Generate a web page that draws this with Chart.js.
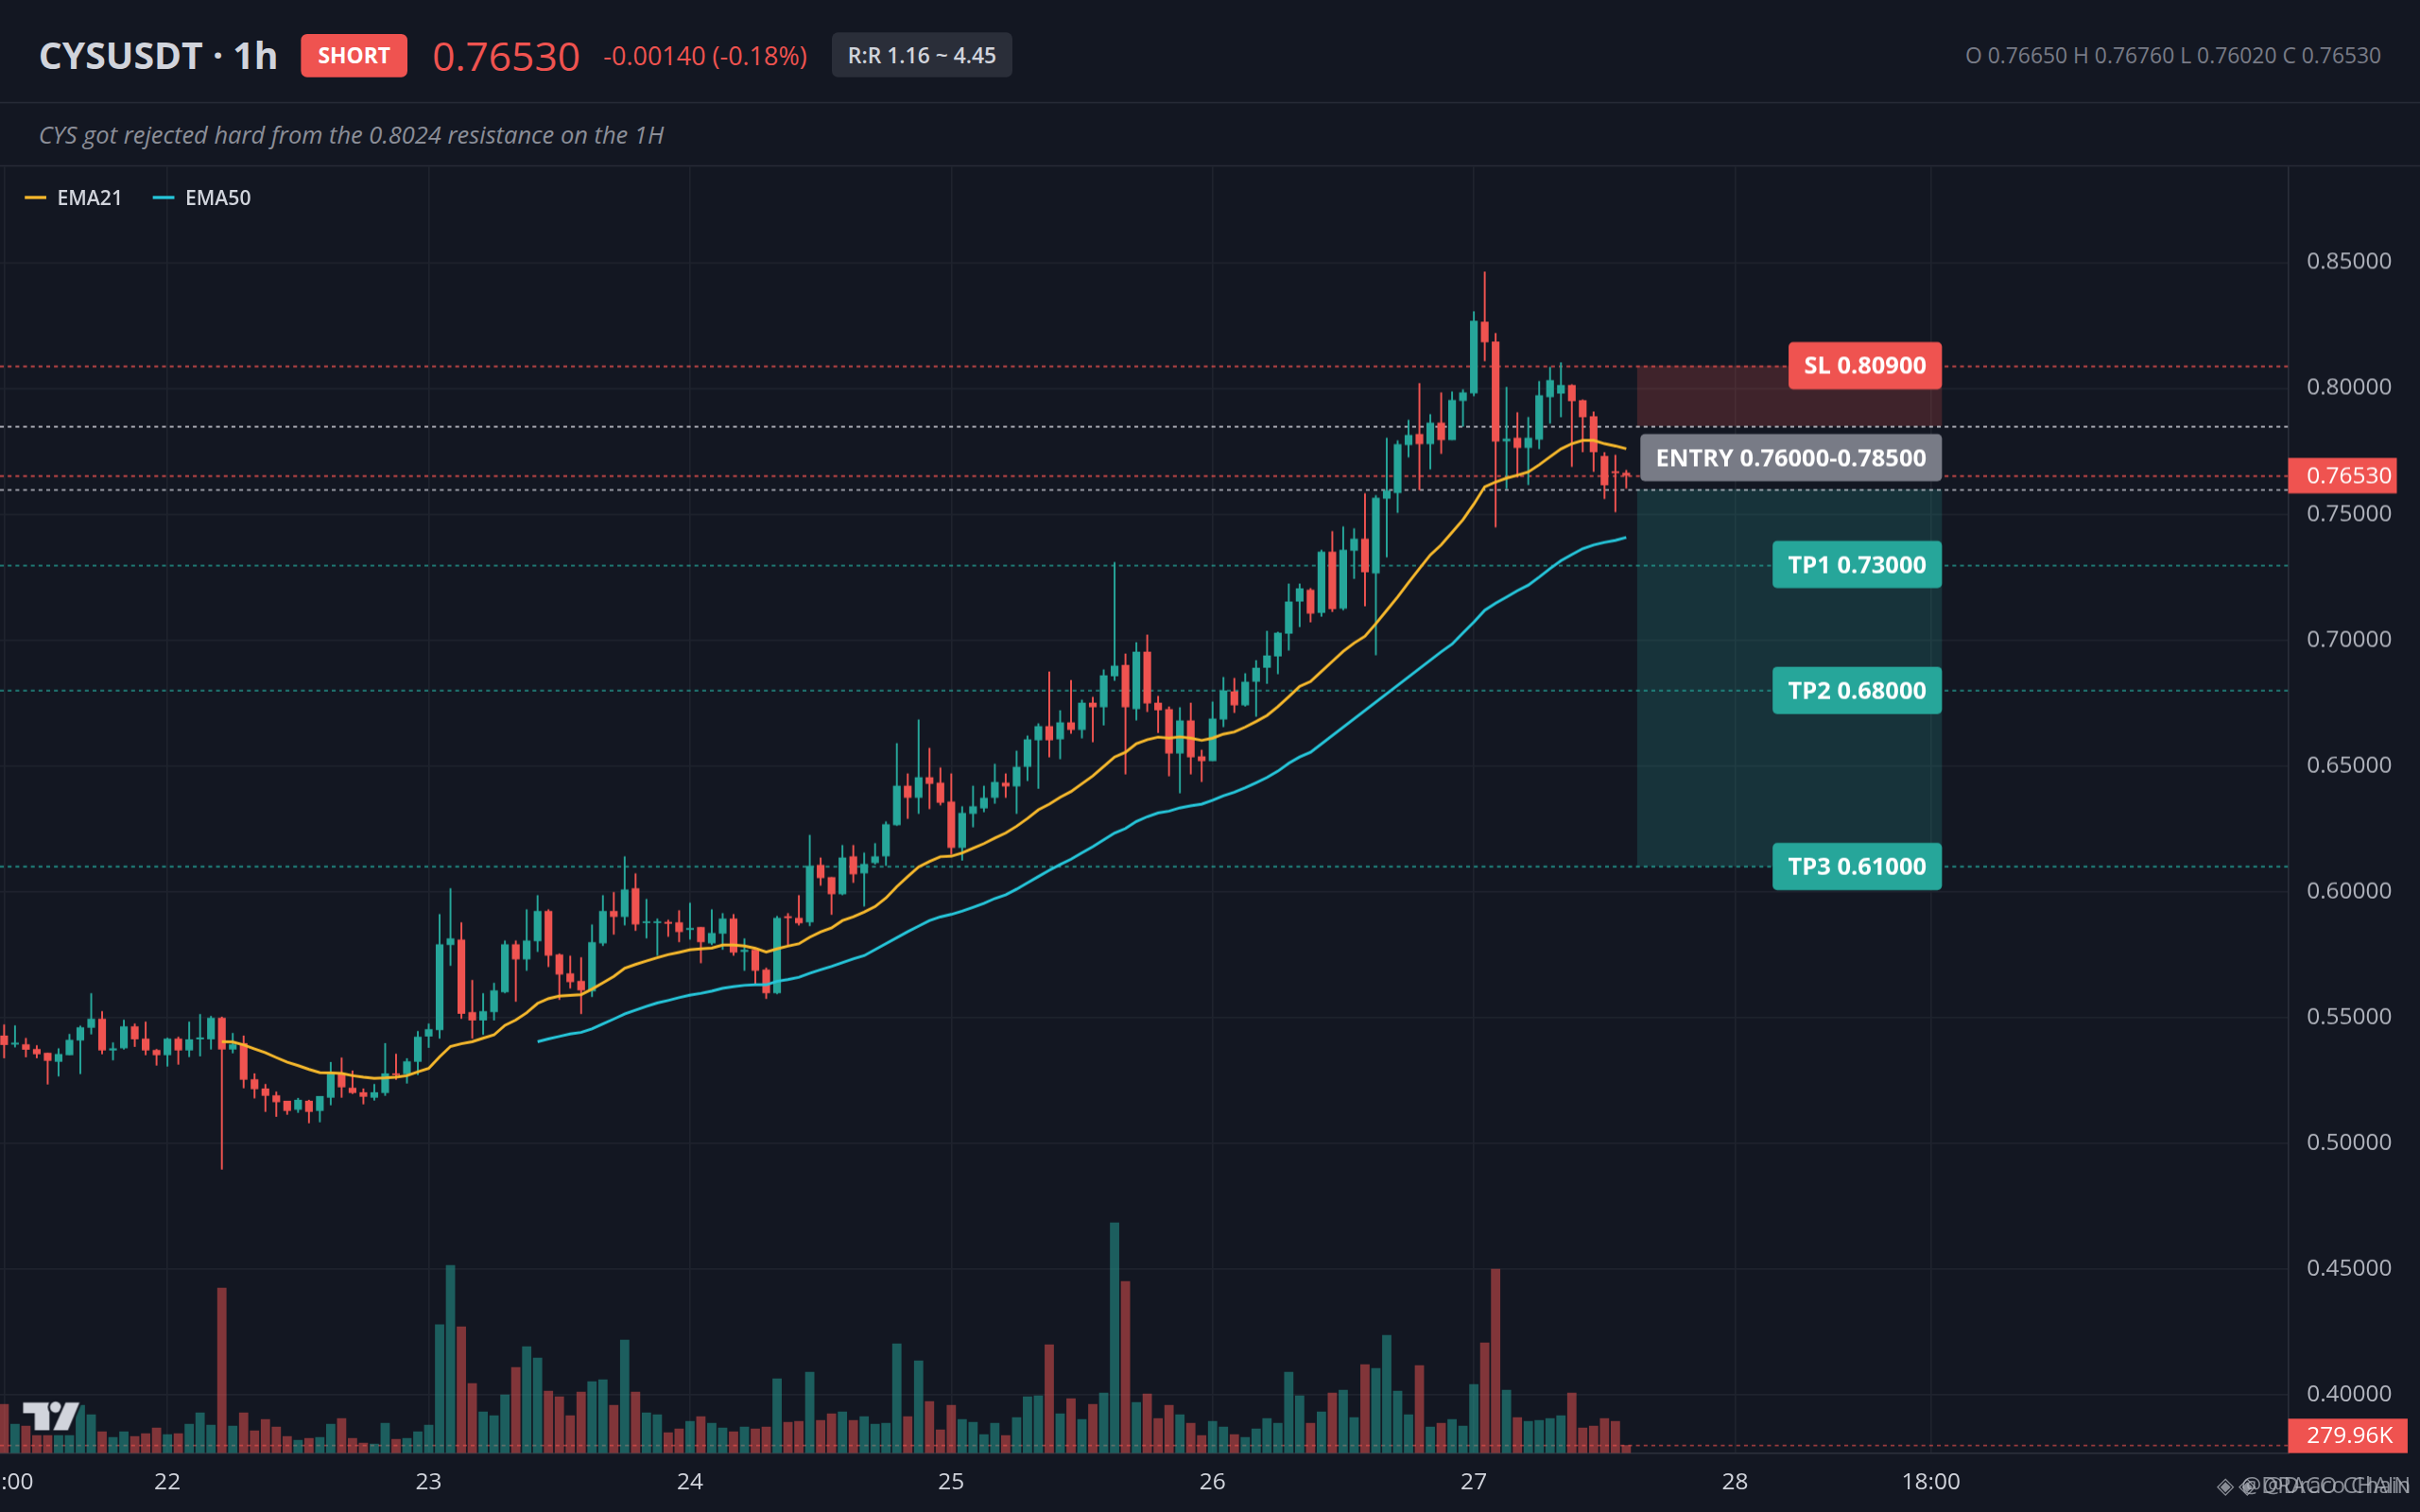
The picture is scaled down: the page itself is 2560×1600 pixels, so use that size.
<!DOCTYPE html>
<html>
<head>
<meta charset="utf-8">
<title>CYSUSDT 1h</title>
<script src="https://cdn.jsdelivr.net/npm/chart.js@4.4.1/dist/chart.umd.min.js"></script>
<style>
    html, body { margin: 0; padding: 0; background: #131722; overflow: hidden; }
    #stage {
        position: absolute; left: 0; top: 0; width: 1568px; height: 980px;
        transform-origin: 0 0; transform: scale(1.632653);
        background: #131722; color: #d1d4dc;
        font-family: "Open Sans", "Noto Sans", sans-serif;
    }
    #stage > div { position: absolute; white-space: nowrap; }
    .title { left: 25px; top: 21px; height: 30px; line-height: 30px; font-size: 24px; font-weight: 700; color: #d1d4dc; }
    .badge { left: 195px; top: 22px; width: 69px; height: 28px; line-height: 28px; text-align: center;
             background: #ef5350; border-radius: 4px; color: #fff; font-size: 14px; font-weight: 700; }
    .price { left: 280px; top: 20px; height: 32px; line-height: 32px; font-size: 26px; font-weight: 500; color: #ef5350; }
    .change { left: 391px; top: 21px; height: 30px; line-height: 30px; font-size: 16.5px; color: #ef5350; }
    .rr { left: 539px; top: 21px; width: 117px; height: 29px; line-height: 29px; text-align: center;
          background: #2a2e39; border-radius: 4px; font-size: 14px; font-weight: 600; color: #d1d4dc; }
    .ohlc { right: 25px; top: 21px; height: 30px; line-height: 30px; font-size: 14px; color: #787b86; }
    .sep { left: 0; width: 1568px; height: 1px; background: #262a36; }
    .sub { left: 25px; top: 76px; height: 22px; line-height: 22px; font-size: 15.6px; font-style: italic; color: #8b8e98; }
    .sw { height: 2px; width: 14px; }
    .lg { top: 119px; height: 18px; line-height: 18px; font-size: 13px; font-weight: 600; color: #d1d4dc; }
    .wm { right: 6px; top: 953px; height: 20px; line-height: 20px; font-size: 14.5px; color: rgba(178,181,190,0.75); }
    #chart { position: absolute; left: 0; top: 108px; }
</style>
</head>
<body>
<div id="stage">
    <div class="title">CYSUSDT · 1h</div>
    <div class="badge">SHORT</div>
    <div class="price">0.76530</div>
    <div class="change">-0.00140 (-0.18%)</div>
    <div class="rr">R:R 1.16 ~ 4.45</div>
    <div class="ohlc">O 0.76650 H 0.76760 L 0.76020 C 0.76530</div>
    <div class="sep" style="top:66px"></div>
    <div class="sub">CYS got rejected hard from the 0.8024 resistance on the 1H</div>
    <div class="sep" style="top:107px"></div>
    <canvas id="chart" width="1568" height="872"></canvas>
    <div class="sw" style="left:16px;top:127px;background:#f6b82c"></div>
    <div class="lg" style="left:37px">EMA21</div>
    <div class="sw" style="left:99px;top:127px;background:#26c6da"></div>
    <div class="lg" style="left:120px">EMA50</div>
    <svg style="position:absolute;left:10px;top:900px" width="50" height="34" viewBox="10 900 50 34">
        <g fill="#d1d4dc" stroke="#131722" stroke-width="3" paint-order="stroke">
            <path d="M15 909 H32 V927 H22.5 V916 H15 Z"/>
            <circle cx="36" cy="912" r="3.6"/>
            <path d="M42.5 909 H51.5 L44 927 H34.5 Z"/>
        </g>
    </svg>
    <div class="wm">◈ @DRACO CHAIN</div>
    <div class="wm">◈ @Draco Chain</div>
</div>

<script>
// ---- data (1h candles, x = hours since 22 00:00) ----
const firstHour = -15;

const opens = [
    .5428,.5393,.5394,.5375,.5360,.5324,.5350,.5409,.5459,.5495,
    .5369,.5378,.5465,.5416,.5371,.5350,.5416,.5369,.5413,.5413,
    .5499,.5373,.5398,.5255,.5218,.5191,.5169,.5133,.5169,.5129,
    .5181,.5275,.5221,.5203,.5181,.5200,.5278,.5275,.5324,.5425,
    .5450,.5788,.5810,.5521,.5488,.5521,.5600,.5791,.5731,.5803,
    .5923,.5750,.5675,.5645,.5604,.5795,.5923,.5900,.6013,.5875,
    .5875,.5878,.5878,.5848,.5859,.5795,.5833,.5893,.5761,.5769,
    .5690,.5596,.5900,.5896,.5878,.6106,.6058,.5990,.6140,.6073,
    .6114,.6140,.6264,.6421,.6373,.6455,.6433,.6358,.6174,.6309,
    .6331,.6373,.6433,.6418,.6496,.6601,.6658,.6605,.6673,.6643,
    .6751,.6733,.6856,.6901,.6725,.6954,.6751,.6725,.6549,.6680,
    .6538,.6519,.6684,.6796,.6740,.6834,.6890,.6935,.7025,.7153,
    .7200,.7108,.7351,.7125,.7355,.7403,.7265,.7561,.7584,.7775,
    .7819,.7778,.7864,.7794,.7950,.7980,.8265,.8186,.7790,.7804,
    .7763,.7796,.7965,.7979,.8013,.7953,.7889,.7731,.7669,.7665
];
const highs = [
    .5472,.5469,.5419,.5390,.5360,.5378,.5435,.5468,.5596,.5525,
    .5401,.5491,.5476,.5484,.5375,.5420,.5424,.5484,.5514,.5506,
    .5503,.5439,.5428,.5278,.5236,.5206,.5169,.5180,.5173,.5188,
    .5323,.5341,.5289,.5218,.5236,.5398,.5356,.5338,.5446,.5476,
    .5911,.6013,.5878,.5649,.5596,.5638,.5806,.5806,.5930,.5986,
    .5930,.5754,.5746,.5739,.5870,.5986,.5998,.6140,.6073,.5971,
    .5893,.5889,.5926,.5956,.5859,.5930,.5915,.5911,.5814,.5769,
    .5698,.5904,.5915,.5986,.6226,.6136,.6058,.6185,.6185,.6155,
    .6193,.6279,.6590,.6470,.6684,.6571,.6493,.6470,.6339,.6421,
    .6421,.6508,.6470,.6560,.6620,.6669,.6875,.6721,.6841,.6763,
    .6774,.6883,.7310,.6946,.6991,.7021,.6778,.6736,.6733,.6751,
    .6564,.6755,.6853,.6849,.6868,.6920,.7036,.7033,.7224,.7224,
    .7206,.7358,.7433,.7451,.7444,.7583,.7575,.7804,.7793,.7875,
    .8021,.7898,.7984,.7988,.7996,.8306,.8464,.8220,.8006,.7905,
    .7886,.8029,.8085,.8103,.8016,.7956,.7908,.7746,.7736,.7676
];
const lows = [
    .5338,.5381,.5342,.5338,.5234,.5266,.5350,.5275,.5433,.5354,
    .5330,.5373,.5383,.5350,.5309,.5305,.5313,.5343,.5346,.5373,
    .4896,.5358,.5219,.5178,.5125,.5105,.5114,.5121,.5080,.5084,
    .5151,.5181,.5196,.5155,.5170,.5189,.5253,.5238,.5271,.5379,
    .5416,.5705,.5495,.5416,.5431,.5488,.5596,.5563,.5686,.5761,
    .5701,.5570,.5615,.5514,.5581,.5784,.5829,.5866,.5844,.5814,
    .5746,.5821,.5799,.5810,.5716,.5788,.5769,.5746,.5686,.5634,
    .5574,.5593,.5788,.5866,.5863,.6024,.5908,.5986,.6035,.5941,
    .6108,.6103,.6261,.6290,.6309,.6328,.6343,.6148,.6123,.6256,
    .6316,.6350,.6373,.6309,.6440,.6409,.6534,.6526,.6628,.6609,
    .6594,.6661,.6838,.6466,.6680,.6714,.6631,.6459,.6391,.6466,
    .6436,.6519,.6654,.6710,.6736,.6695,.6826,.6864,.6958,.7051,
    .7070,.7093,.7111,.7118,.7243,.7134,.6940,.7328,.7505,.7726,
    .7595,.7678,.7740,.7794,.7848,.7969,.8108,.7448,.7601,.7646,
    .7616,.7759,.7860,.7885,.7688,.7746,.7668,.7560,.7508,.7602
];
const closes = [
    .5391,.5395,.5372,.5354,.5328,.5355,.5411,.5461,.5495,.5369,
    .5378,.5465,.5413,.5369,.5350,.5416,.5369,.5413,.5416,.5499,
    .5373,.5394,.5253,.5215,.5189,.5163,.5129,.5173,.5125,.5188,
    .5275,.5223,.5200,.5185,.5203,.5278,.5271,.5326,.5424,.5454,
    .5791,.5814,.5515,.5488,.5525,.5608,.5791,.5731,.5806,.5923,
    .5746,.5671,.5641,.5608,.5799,.5923,.5900,.6009,.5870,.5878,
    .5878,.5873,.5840,.5855,.5799,.5836,.5893,.5758,.5769,.5686,
    .5596,.5896,.5895,.5874,.6103,.6054,.5990,.6136,.6069,.6110,
    .6140,.6268,.6421,.6373,.6455,.6429,.6353,.6174,.6313,.6339,
    .6373,.6436,.6418,.6496,.6605,.6658,.6601,.6673,.6643,.6751,
    .6733,.6860,.6898,.6733,.6954,.6748,.6721,.6549,.6680,.6534,
    .6519,.6688,.6800,.6740,.6834,.6890,.6939,.7029,.7153,.7205,
    .7105,.7351,.7123,.7358,.7403,.7269,.7565,.7594,.7778,.7815,
    .7778,.7864,.7794,.7954,.7984,.8269,.8183,.7789,.7800,.7763,
    .7804,.7973,.8033,.8013,.7949,.7885,.7746,.7615,.7663,.7653
];
// volume in thousands
const volumes = [
    1747,1042,974,638,638,638,638,1714,1378,773,
    571,773,605,706,907,672,706,1042,1445,1008,
    5880,974,1445,806,1210,941,605,470,538,571,
    1042,1243,538,370,336,1075,504,538,773,1008,
    4570,6686,4502,2486,1478,1344,2083,3058,3797,3394,
    2218,2016,1344,2184,2554,2621,1714,4032,2184,1445,
    1378,739,874,1142,1310,1075,907,773,941,874,
    941,2654,1109,1142,2890,1176,1411,1478,1176,1310,
    1042,1075,3898,1310,3293,1848,840,1714,1210,1109,
    672,1075,638,1277,2016,2050,3864,1411,1949,1210,
    1747,2150,8198,6115,1814,2117,1243,1714,1378,1075,
    638,1142,941,672,571,874,1243,1075,2890,2050,
    1075,1478,2150,2251,1277,3158,3024,4200,2218,1378,
    3125,941,1075,1210,974,2453,3931,6552,2251,1277,
    1142,1176,1243,1344,2150,907,974,1243,1142,279.96
];
const ema21 = [
    null,null,null,null,null,null,null,null,null,null,
    null,null,null,null,null,null,null,null,null,null,
    .5404,.5403,.5391,.5375,.5360,.5341,.5323,.5309,.5294,.5281,
    .5280,.5278,.5269,.5263,.5258,.5260,.5263,.5269,.5284,.5298,
    .5344,.5385,.5396,.5404,.5418,.5431,.5469,.5490,.5519,.5556,
    .5575,.5585,.5588,.5591,.5613,.5638,.5663,.5696,.5711,.5725,
    .5738,.5750,.5759,.5769,.5773,.5776,.5788,.5788,.5784,.5775,
    .5760,.5773,.5784,.5793,.5819,.5840,.5856,.5885,.5900,.5919,
    .5941,.5975,.6020,.6060,.6098,.6120,.6139,.6141,.6154,.6173,
    .6191,.6213,.6233,.6260,.6291,.6325,.6348,.6375,.6398,.6429,
    .6460,.6498,.6535,.6554,.6588,.6604,.6614,.6610,.6615,.6610,
    .6601,.6610,.6626,.6635,.6654,.6676,.6700,.6735,.6775,.6816,
    .6835,.6875,.6915,.6955,.6988,.7015,.7065,.7118,.7171,.7228,
    .7284,.7338,.7378,.7428,.7478,.7540,.7609,.7628,.7643,.7655,
    .7668,.7696,.7728,.7759,.7780,.7793,.7793,.7780,.7771,.7760
];
const ema50 = [
    null,null,null,null,null,null,null,null,null,null,
    null,null,null,null,null,null,null,null,null,null,
    null,null,null,null,null,null,null,null,null,null,
    null,null,null,null,null,null,null,null,null,null,
    null,null,null,null,null,null,null,null,null,.5404,
    .5415,.5425,.5435,.5441,.5455,.5475,.5494,.5514,.5529,.5544,
    .5558,.5568,.5579,.5589,.5596,.5605,.5616,.5623,.5628,.5630,
    .5630,.5644,.5651,.5660,.5676,.5690,.5703,.5718,.5733,.5746,
    null,null,null,.5841,.5863,.5885,.5900,.5910,.5923,.5938,
    .5954,.5973,.5988,.6010,.6035,.6060,.6085,.6108,.6129,.6154,
    .6179,.6206,.6233,.6251,.6279,.6298,.6313,.6320,.6333,.6341,
    .6348,.6363,.6381,.6395,.6413,.6433,.6454,.6479,.6510,.6535,
    .6554,null,null,null,null,null,null,null,null,null,
    null,null,.6953,.6984,.7028,.7071,.7118,.7146,.7171,.7196,
    .7218,.7250,.7284,.7315,.7340,.7363,.7378,.7388,.7396,.7408
];

const tickHours = [-15, 0, 24, 48, 72, 96, 120, 144, 162];
const tickLabels = ['09:00', '22', '23', '24', '25', '26', '27', '28', '18:00'];
const priceTicks = [0.40, 0.45, 0.50, 0.55, 0.60, 0.65, 0.70, 0.75, 0.80, 0.85];

// trade setup
const stopLoss = 0.809;
const entryLow = 0.760;
const entryHigh = 0.785;
const targets = [0.73, 0.68, 0.61];
const lastPrice = 0.7653;
const lastVolume = 279.96;

// ---- look ----
const UP = '#26a69a', DOWN = '#ef5350';
const GRID = '#1f232e';
const FONT = '"Open Sans", "Noto Sans", sans-serif';
const DPR = 2560 / 1568;
const zoneStart = 135, zoneEnd = 163;   // hours covered by the risk/reward boxes

const CandleChart = {
    init: function() {
        Chart.defaults.font.family = FONT;
        const ctx = document.getElementById('chart').getContext('2d');
        new Chart(ctx, {
            type: 'bar',
            data: { datasets: this.buildDatasets() },
            options: this.buildOptions(),
            plugins: [this.levelsPlugin]
        });
    },

    hourOf: i => firstHour + i,

    buildDatasets: function() {
        const isUp = closes.map((c, i) => c >= opens[i]);
        const volColors = isUp.map(u => u ? 'rgba(38,166,154,0.5)' : 'rgba(239,83,80,0.5)');
        const colors = isUp.map(u => u ? UP : DOWN);
        const line = (arr, color, label) => ({
            type: 'line', label, yAxisID: 'y', order: 1,
            data: arr.map((v, i) => ({ x: this.hourOf(i), y: v })),
            borderColor: color, borderWidth: 1.8, pointRadius: 0,
            spanGaps: true, fill: false, tension: 0
        });
        return [
            {
                label: 'Volume', yAxisID: 'yv', order: 5,
                data: volumes.map((v, i) => ({ x: this.hourOf(i), y: v })),
                backgroundColor: volColors, barThickness: 6, inflateAmount: 0
            },
            {
                label: 'Wick', yAxisID: 'y', order: 3,
                data: lows.map((l, i) => ({ x: this.hourOf(i), y: [l, highs[i]] })),
                backgroundColor: colors, barThickness: 1.2, inflateAmount: 0
            },
            {
                label: 'Body', yAxisID: 'y', order: 2,
                data: opens.map((o, i) => ({ x: this.hourOf(i), y: [o, closes[i]] })),
                backgroundColor: colors, barThickness: 5, minBarLength: 1.2, inflateAmount: 0
            },
            line(ema21, '#f6b82c', 'EMA21'),
            line(ema50, '#26c6da', 'EMA50')
        ];
    },

    buildOptions: function() {
        return {
            responsive: false,
            animation: false,
            devicePixelRatio: DPR,
            events: [],
            layout: { padding: 0 },
            datasets: { bar: { grouped: false, borderWidth: 0 } },
            plugins: { legend: { display: false }, tooltip: { enabled: false } },
            scales: {
                x: {
                    type: 'linear', position: 'bottom', min: -15.38, max: 194.8, offset: false,
                    grid: { color: GRID, drawTicks: false, offset: false },
                    border: { color: '#2a2e39' },
                    afterBuildTicks: s => { s.ticks = tickHours.map(v => ({ value: v })); },
                    afterFit: s => { s.height = 38.6; s.paddingLeft = 0; s.paddingRight = 0; },
                    ticks: {
                        autoSkip: false, maxRotation: 0, padding: 10,
                        color: '#d1d4dc', font: { size: 15 },
                        callback: (v, i) => tickLabels[i]
                    }
                },
                y: {
                    type: 'linear', position: 'right', min: 0.3769, max: 0.8881,
                    grid: { color: GRID, drawTicks: false },
                    border: { color: '#2a2e39' },
                    afterBuildTicks: s => { s.ticks = priceTicks.map(v => ({ value: v })); },
                    afterFit: s => { s.width = 85.4; s.paddingTop = 0; s.paddingBottom = 0; },
                    ticks: { padding: 12, color: '#b2b5be', font: { size: 15 }, callback: v => v.toFixed(5) }
                },
                yv: { type: 'linear', display: false, min: 0, max: 45712 }
            }
        };
    },

    levelsPlugin: {
        id: 'levels',
        beforeDatasetsDraw(chart) {
            const { ctx, chartArea: a, scales: { x, y, yv } } = chart;
            ctx.save();
            ctx.beginPath();
            ctx.rect(a.left, a.top, a.right - a.left, a.bottom - a.top);
            ctx.clip();

            const x0 = x.getPixelForValue(zoneStart), x1 = x.getPixelForValue(zoneEnd);
            const ySl = y.getPixelForValue(stopLoss), yHi = y.getPixelForValue(entryHigh);
            const yLo = y.getPixelForValue(entryLow), yTp = y.getPixelForValue(targets[targets.length - 1]);
            ctx.fillStyle = 'rgba(239,83,80,0.2)';
            ctx.fillRect(x0, ySl, x1 - x0, yHi - ySl);
            ctx.fillStyle = 'rgba(38,166,154,0.2)';
            ctx.fillRect(x0, yLo, x1 - x0, yTp - yLo);

            ctx.lineWidth = 1;
            ctx.setLineDash([2.5, 2.5]);
            const hline = (py, color) => {
                ctx.strokeStyle = color;
                ctx.beginPath();
                ctx.moveTo(a.left, Math.round(py) + 0.5);
                ctx.lineTo(a.right, Math.round(py) + 0.5);
                ctx.stroke();
            };
            hline(ySl, 'rgba(239,83,80,0.9)');
            hline(yHi, 'rgba(209,212,220,0.9)');
            hline(yLo, 'rgba(209,212,220,0.9)');
            targets.forEach(t => hline(y.getPixelForValue(t), 'rgba(38,166,154,0.9)'));
            hline(y.getPixelForValue(lastPrice), 'rgba(239,83,80,0.9)');
            hline(yv.getPixelForValue(lastVolume), 'rgba(239,83,80,0.6)');
            ctx.restore();
        },
        afterDatasetsDraw(chart) {
            const { ctx, scales: { x, y } } = chart;
            const right = x.getPixelForValue(zoneEnd);
            const tag = (text, value, bg) => {
                ctx.font = '700 15.6px ' + FONT;
                const w = ctx.measureText(text).width + 20, h = 30.6;
                const cy = y.getPixelForValue(value);
                ctx.fillStyle = bg;
                ctx.beginPath();
                ctx.roundRect(right - w, cy - h / 2, w, h, 3);
                ctx.fill();
                ctx.fillStyle = '#ffffff';
                ctx.textAlign = 'center';
                ctx.textBaseline = 'middle';
                ctx.fillText(text, right - w / 2, cy + 1);
            };
            ctx.save();
            tag('SL ' + stopLoss.toFixed(5), stopLoss, '#ef5350');
            tag('ENTRY ' + entryLow.toFixed(5) + '-' + entryHigh.toFixed(5), (entryLow + entryHigh) / 2, '#787b86');
            targets.forEach((t, i) => tag('TP' + (i + 1) + ' ' + t.toFixed(5), t, '#26a69a'));
            ctx.restore();
        },
        afterDraw(chart) {
            const { ctx, chartArea: a, scales: { y } } = chart;
            ctx.save();
            ctx.font = '15px ' + FONT;
            ctx.textAlign = 'left';
            ctx.textBaseline = 'middle';
            const cy = y.getPixelForValue(lastPrice);
            ctx.fillStyle = '#ef5350';
            ctx.fillRect(a.right, cy - 11.5, 70.4, 23);
            ctx.fillStyle = '#ffffff';
            ctx.fillText(lastPrice.toFixed(5), a.right + 12, cy + 1);

            ctx.fillStyle = '#ef5350';
            ctx.fillRect(a.right, a.bottom - 22.3, 77.4, 22.3);
            ctx.fillStyle = '#ffffff';
            ctx.fillText(lastVolume.toFixed(2) + 'K', a.right + 12, a.bottom - 10.5);
            ctx.restore();
        }
    }
};

CandleChart.init();
</script>
</body>
</html>
